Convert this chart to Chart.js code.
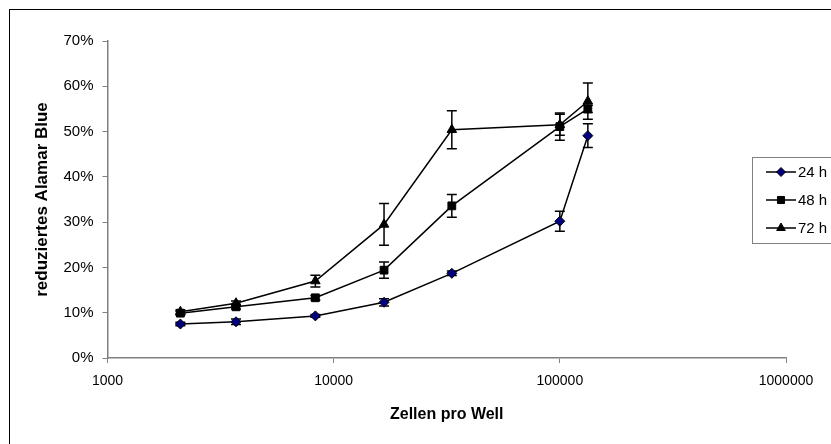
<!DOCTYPE html>
<html>
<head>
<meta charset="utf-8">
<script src="https://cdn.jsdelivr.net/npm/chart.js@4/dist/chart.umd.min.js"></script>
<style>
  html, body { margin: 0; padding: 0; background: #fff; }
  #wrap { width: 831px; height: 444px; position: relative; }
</style>
</head>
<body>
<div id="wrap"><canvas id="c" width="831" height="444"></canvas></div>
<script>
// Zellen pro Well (x, logarithmisch)
const cells = [2100, 3700, 8300, 16700, 33300, 100000, 133000];
// reduziertes Alamar Blue in %
const h24 = [7.5, 8.0, 9.3, 12.3, 18.7, 30.2, 49.1];
const h48 = [9.9, 11.3, 13.3, 19.4, 33.6, 51.1, 55.0];
const h72 = [10.2, 12.1, 17.0, 29.5, 50.4, 51.5, 56.7];
// Standardabweichungen in %
const sd24 = [0.4, 0.6, 0.3, 0.8, 0.5, 2.2, 2.6];
const sd48 = [0.4, 0.5, 0.5, 1.8, 2.5, 3.0, 0.8];
const sd72 = [0.4, 0.5, 1.3, 4.6, 4.2, 2.3, 4.0];
const seriesNames = ['24 h', '48 h', '72 h'];
const xTicks = [1000, 10000, 100000, 1000000];
const yTicks = [0, 10, 20, 30, 40, 50, 60, 70];

const FONT = "'Liberation Sans', Arial, sans-serif";

function pts(vals) { return cells.map((x, i) => ({ x: x, y: vals[i] })); }

const markers = [
  { style: 'rectRot', radius: 5, fill: '#000080' },
  { style: 'rect', radius: 5.5, fill: '#000000' },
  { style: 'triangle', radius: 5.5, fill: '#000000' }
];
const errs = [sd24, sd48, sd72];

const datasets = [h24, h48, h72].map((vals, i) => ({
  label: seriesNames[i],
  data: pts(vals),
  borderColor: '#000000',
  borderWidth: 1.5,
  backgroundColor: markers[i].fill,
  pointStyle: markers[i].style,
  pointRadius: markers[i].radius,
  pointHoverRadius: markers[i].radius,
  pointBackgroundColor: markers[i].fill,
  pointBorderColor: '#000000',
  pointBorderWidth: 1,
  tension: 0,
  fill: false
}));

// Fehlerbalken (±SD) über die Skalen der Grafik
const errorBars = {
  id: 'errorBars',
  beforeDatasetsDraw(chart) {
    const ctx = chart.ctx;
    const xs = chart.scales.x, ys = chart.scales.y;
    ctx.save();
    ctx.strokeStyle = '#000000';
    ctx.lineWidth = 1.5;
    chart.data.datasets.forEach((ds, di) => {
      ds.data.forEach((p, i) => {
        const e = errs[di][i];
        const px = xs.getPixelForValue(p.x);
        const top = ys.getPixelForValue(p.y + e);
        const bot = ys.getPixelForValue(p.y - e);
        ctx.beginPath();
        ctx.moveTo(px, top); ctx.lineTo(px, bot);
        ctx.moveTo(px - 5, top); ctx.lineTo(px + 5, top);
        ctx.moveTo(px - 5, bot); ctx.lineTo(px + 5, bot);
        ctx.stroke();
      });
    });
    ctx.restore();
  }
};

// Rahmen und Legende
const frameAndLegend = {
  id: 'frameAndLegend',
  afterDraw(chart) {
    const ctx = chart.ctx;
    ctx.save();
    ctx.strokeStyle = '#000000';
    ctx.lineWidth = 1;
    ctx.strokeRect(9.5, 9.5, 1000, 1000);

    ctx.strokeStyle = '#808080';
    ctx.strokeRect(752.5, 157.5, 200, 86);
    const rows = [172, 200, 228];
    chart.data.datasets.forEach((ds, i) => {
      const y = rows[i];
      ctx.strokeStyle = '#000000';
      ctx.lineWidth = 1.5;
      ctx.beginPath();
      ctx.moveTo(766, y); ctx.lineTo(796, y);
      ctx.stroke();
      ctx.lineWidth = 1;
      ctx.fillStyle = markers[i].fill;
      ctx.strokeStyle = '#000000';
      Chart.helpers.drawPoint(ctx, { pointStyle: markers[i].style, radius: markers[i].radius - 0.5, borderWidth: 1 }, 781, y);
      ctx.fillStyle = '#000000';
      ctx.font = '15px ' + FONT;
      ctx.textAlign = 'left';
      ctx.textBaseline = 'middle';
      ctx.fillText(ds.label, 798, y + 1);
    });
    ctx.restore();
  }
};

new Chart(document.getElementById('c'), {
  type: 'line',
  data: { datasets: datasets },
  plugins: [errorBars, frameAndLegend],
  options: {
    responsive: false,
    animation: false,
    events: [],
    layout: { padding: { left: 10, top: 41, right: 45, bottom: 0 } },
    plugins: { legend: { display: false }, tooltip: { enabled: false } },
    scales: {
      x: {
        type: 'logarithmic',
        min: 1000,
        max: 1000000,
        afterBuildTicks(scale) { scale.ticks = xTicks.map(v => ({ value: v })); },
        afterFit(scale) { scale.height = 86; },
        ticks: {
          callback: v => String(v),
          color: '#000000',
          font: { family: FONT, size: 14 },
          padding: 10,
          maxRotation: 0,
          autoSkip: false
        },
        grid: { drawOnChartArea: false, drawTicks: true, tickLength: 5, color: '#808080', lineWidth: 1 },
        border: { display: true, color: '#808080', width: 1.5 },
        title: {
          display: true,
          text: 'Zellen pro Well',
          color: '#000000',
          font: { family: FONT, size: 16, weight: 'bold' },
          padding: { top: 0, bottom: 20 }
        }
      },
      y: {
        type: 'linear',
        min: 0,
        max: 70,
        afterBuildTicks(scale) { scale.ticks = yTicks.map(v => ({ value: v })); },
        afterFit(scale) { scale.width = 97.5; },
        ticks: {
          callback: v => v + '%',
          color: '#000000',
          font: { family: FONT, size: 15 },
          padding: 9
        },
        grid: { drawOnChartArea: false, drawTicks: true, tickLength: 5, color: '#808080', lineWidth: 1 },
        border: { display: true, color: '#808080', width: 1.5 },
        title: {
          display: true,
          text: 'reduziertes Alamar Blue',
          color: '#000000',
          font: { family: FONT, size: 17, weight: 'bold' },
          padding: { top: 22, bottom: 0 }
        }
      }
    }
  }
});
</script>
</body>
</html>
